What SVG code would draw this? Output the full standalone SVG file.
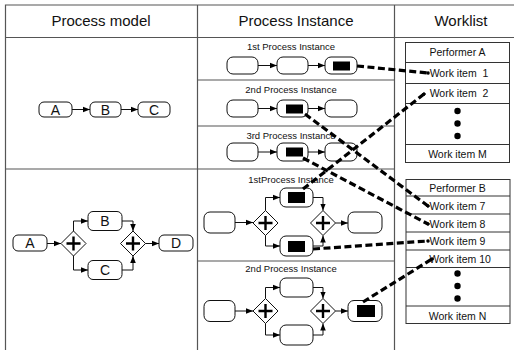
<svg xmlns="http://www.w3.org/2000/svg" width="514" height="350" viewBox="0 0 514 350">
<style>
text{font-family:"Liberation Sans",Arial,sans-serif;fill:#111}
.hd{font-size:15px;text-anchor:middle}
.sub{font-size:9.5px;text-anchor:middle}
.wl{font-size:10.5px;text-anchor:middle}
.lbl{font-size:14px;text-anchor:middle}
.grid{stroke:#555;stroke-width:1.2;fill:none}
.box{fill:#fff;stroke:#111;stroke-width:1}
.blk{fill:#000}
.gw{fill:#fff;stroke:#111;stroke-width:1}
.plus{stroke:#000;stroke-width:2.4;fill:none}
.ln{stroke:#111;stroke-width:1;fill:none;marker-end:url(#ah)}
.dash{stroke:#000;stroke-width:3.2;stroke-dasharray:7 3.5;fill:none;marker-end:url(#dot)}
.wbox{fill:#fff;stroke:#333;stroke-width:1}
</style>
<defs>
<marker id="ah" viewBox="0 0 10 10" refX="10" refY="5" markerWidth="7" markerHeight="7" markerUnits="userSpaceOnUse" orient="auto"><path d="M0,1 L10,5 L0,9 z" fill="#000"/></marker>
<marker id="dot" viewBox="0 0 10 10" refX="5" refY="5" markerWidth="3.5" markerHeight="3.5" markerUnits="userSpaceOnUse" orient="auto"><circle cx="5" cy="5" r="5" fill="#000"/></marker>
</defs>
<rect width="514" height="350" fill="#fff"/>
<g id="table">
<path class="grid" d="M5.5,360 V5 H520 M5.5,37.5 H520 M197.5,5 V360 M394.5,5 V360 M5.5,169 H394.5 M197.5,80 H394.5 M197.5,126 H394.5 M197.5,261 H394.5"/>
<text class="hd" x="101" y="26">Process model</text>
<text class="hd" x="296" y="26">Process Instance</text>
<text class="hd" x="461" y="26">Worklist</text>
</g>
<g id="model1">
<g id="m1A"><rect class="box" x="39" y="102" width="33" height="15" rx="5"/><text class="lbl" x="55.5" y="114.5">A</text></g>
<g id="m1B"><rect class="box" x="90" y="102" width="31" height="15" rx="5"/><text class="lbl" x="105.5" y="114.5">B</text></g>
<g id="m1C"><rect class="box" x="138" y="102" width="32" height="15" rx="5"/><text class="lbl" x="154" y="114.5">C</text></g>
</g>
<g id="model2">
<g id="m2A"><rect class="box" x="13" y="235" width="34" height="16" rx="5"/><text class="lbl" x="30" y="248">A</text></g>
<g id="m2G1"><path class="gw" d="M73.5,231 L86,243.5 L73.5,256 L61,243.5 Z"/><path class="plus" d="M66.5,243.5 H80.5 M73.5,236.5 V250.5"/></g>
<g id="m2B"><rect class="box" x="88" y="211.5" width="34" height="19" rx="5"/><text class="lbl" x="105" y="226">B</text></g>
<g id="m2C"><rect class="box" x="88" y="260.5" width="34" height="19" rx="5"/><text class="lbl" x="105" y="275">C</text></g>
<g id="m2G2"><path class="gw" d="M133,231 L145.5,243.5 L133,256 L120.5,243.5 Z"/><path class="plus" d="M126,243.5 H140 M133,236.5 V250.5"/></g>
<g id="m2D"><rect class="box" x="159" y="235" width="34" height="16" rx="5"/><text class="lbl" x="176" y="248">D</text></g>
</g>
<g id="inst1">
<text class="sub" x="291" y="50">1st Process Instance</text>
<g id="i1a"><rect class="box" x="227" y="57" width="31" height="17" rx="6"/></g>
<g id="i1b"><rect class="box" x="277" y="57" width="31" height="17" rx="6"/></g>
<g id="i1c"><rect class="box" x="325" y="57" width="32" height="17" rx="6"/><rect class="blk" x="333" y="61.5" width="17" height="9"/></g>
</g>
<g id="inst2">
<text class="sub" x="291" y="93">2nd Process Instance</text>
<g id="i2a"><rect class="box" x="227" y="100" width="31" height="17" rx="6"/></g>
<g id="i2b"><rect class="box" x="277" y="100" width="31" height="17" rx="6"/><rect class="blk" x="286" y="104.5" width="17" height="9"/></g>
<g id="i2c"><rect class="box" x="325" y="100" width="32" height="17" rx="6"/></g>
</g>
<g id="inst3">
<text class="sub" x="291" y="139">3rd Process Instance</text>
<g id="i3a"><rect class="box" x="227" y="143" width="31" height="18" rx="6"/></g>
<g id="i3b"><rect class="box" x="277" y="143" width="31" height="18" rx="6"/><rect class="blk" x="286" y="147.5" width="17" height="9"/></g>
<g id="i3c"><rect class="box" x="325" y="143" width="32" height="18" rx="6"/></g>
</g>
<g id="inst4">
<text class="sub" x="291" y="183">1stProcess Instance</text>
<g id="i4s"><rect class="box" x="204" y="212" width="31" height="21" rx="6"/></g>
<g id="i4g1"><path class="gw" d="M265.5,210.5 L278,223 L265.5,235.5 L253,223 Z"/><path class="plus" d="M258.5,223 H272.5 M265.5,216 V230"/></g>
<g id="i4t"><rect class="box" x="280" y="188" width="33" height="19" rx="6"/><rect class="blk" x="288" y="192" width="17" height="11"/></g>
<g id="i4b"><rect class="box" x="280" y="236" width="33" height="20" rx="6"/><rect class="blk" x="288" y="241" width="17" height="11"/></g>
<g id="i4g2"><path class="gw" d="M323,210.5 L335.5,223 L323,235.5 L310.5,223 Z"/><path class="plus" d="M316,223 H330 M323,216 V230"/></g>
<g id="i4e"><rect class="box" x="348" y="212" width="34" height="21" rx="6"/></g>
</g>
<g id="inst5">
<text class="sub" x="291" y="272">2nd Process Instance</text>
<g id="i5s"><rect class="box" x="204" y="300.5" width="31" height="21" rx="6"/></g>
<g id="i5g1"><path class="gw" d="M265.5,298.5 L278,311 L265.5,323.5 L253,311 Z"/><path class="plus" d="M258.5,311 H272.5 M265.5,304 V318"/></g>
<g id="i5t"><rect class="box" x="280" y="278" width="33" height="19" rx="6"/></g>
<g id="i5b"><rect class="box" x="280" y="325" width="33" height="20" rx="6"/></g>
<g id="i5g2"><path class="gw" d="M323,298.5 L335.5,311 L323,323.5 L310.5,311 Z"/><path class="plus" d="M316,311 H330 M323,304 V318"/></g>
<g id="i5e"><rect class="box" x="348" y="300.5" width="34" height="21" rx="6"/><rect class="blk" x="357" y="305" width="18" height="12"/></g>
</g>
<g id="worklistA">
<rect class="wbox" x="405.5" y="42.5" width="104" height="120"/>
<path class="grid" d="M405.5,62.5 H509.5 M405.5,83.5 H509.5 M405.5,103.5 H509.5 M405.5,144.5 H509.5" style="stroke:#333;stroke-width:1"/>
<text class="wl" x="457.5" y="56">Performer A</text>
<text class="wl" x="459" y="77" xml:space="preserve">Work item  1</text>
<text class="wl" x="459" y="97" xml:space="preserve">Work item  2</text>
<circle cx="457.5" cy="111" r="3.2"/><circle cx="457.5" cy="123.5" r="3.2"/><circle cx="457.5" cy="136" r="3.2"/>
<text class="wl" x="457.5" y="158">Work item M</text>
</g>
<g id="worklistB">
<rect class="wbox" x="406" y="179.5" width="104" height="144"/>
<path class="grid" d="M406,196 H510 M406,214 H510 M406,232 H510 M406,250 H510 M406,267.5 H510 M406,306 H510" style="stroke:#333;stroke-width:1"/>
<text class="wl" x="457.5" y="192">Performer B</text>
<text class="wl" x="457.5" y="209.5">Work item 7</text>
<text class="wl" x="457.5" y="227.5">Work item 8</text>
<text class="wl" x="457.5" y="245">Work item 9</text>
<text class="wl" x="460" y="263">Work item 10</text>
<circle cx="457.5" cy="273.5" r="3.2"/><circle cx="457.5" cy="286" r="3.2"/><circle cx="457.5" cy="298.5" r="3.2"/>
<text class="wl" x="457.5" y="320">Work item N</text>
</g>
<g id="connectors">
<path class="ln" d="M72,109.5 H90"/>
<path class="ln" d="M121,109.5 H138"/>
<path class="ln" d="M47,243.5 H61"/>
<path class="ln" d="M73.5,231 V221 H88"/>
<path class="ln" d="M73.5,256 V270 H88"/>
<path class="ln" d="M122,221 H133 V231"/>
<path class="ln" d="M122,270 H133 V256"/>
<path class="ln" d="M145.5,243.5 H159"/>
<path class="ln" d="M258,65.5 H277"/>
<path class="ln" d="M308,65.5 H325"/>
<path class="ln" d="M258,108.5 H277"/>
<path class="ln" d="M308,108.5 H325"/>
<path class="ln" d="M258,152 H277"/>
<path class="ln" d="M308,152 H325"/>
<path class="ln" d="M235,222.5 H253"/>
<path class="ln" d="M265.5,210.5 V197.5 H280"/>
<path class="ln" d="M265.5,235.5 V246 H280"/>
<path class="ln" d="M313,197.5 H323 V210.5"/>
<path class="ln" d="M313,246 H323 V235.5"/>
<path class="ln" d="M335.5,223 H348"/>
<path class="ln" d="M235,311 H253"/>
<path class="ln" d="M265.5,298.5 V287.5 H280"/>
<path class="ln" d="M265.5,323.5 V335 H280"/>
<path class="ln" d="M313,287.5 H323 V298.5"/>
<path class="ln" d="M313,335 H323 V323.5"/>
<path class="ln" d="M335.5,311 H348"/>
<path class="dash" d="M357,66 L428,73"/>
<path class="dash" d="M305,114 L428,206"/>
<path class="dash" d="M303,158 L428,224"/>
<path class="dash" d="M303,189 L424,94"/>
<path class="dash" d="M313,249 L428,241"/>
<path class="dash" d="M363,302 L432,259"/>
</g>
</svg>
